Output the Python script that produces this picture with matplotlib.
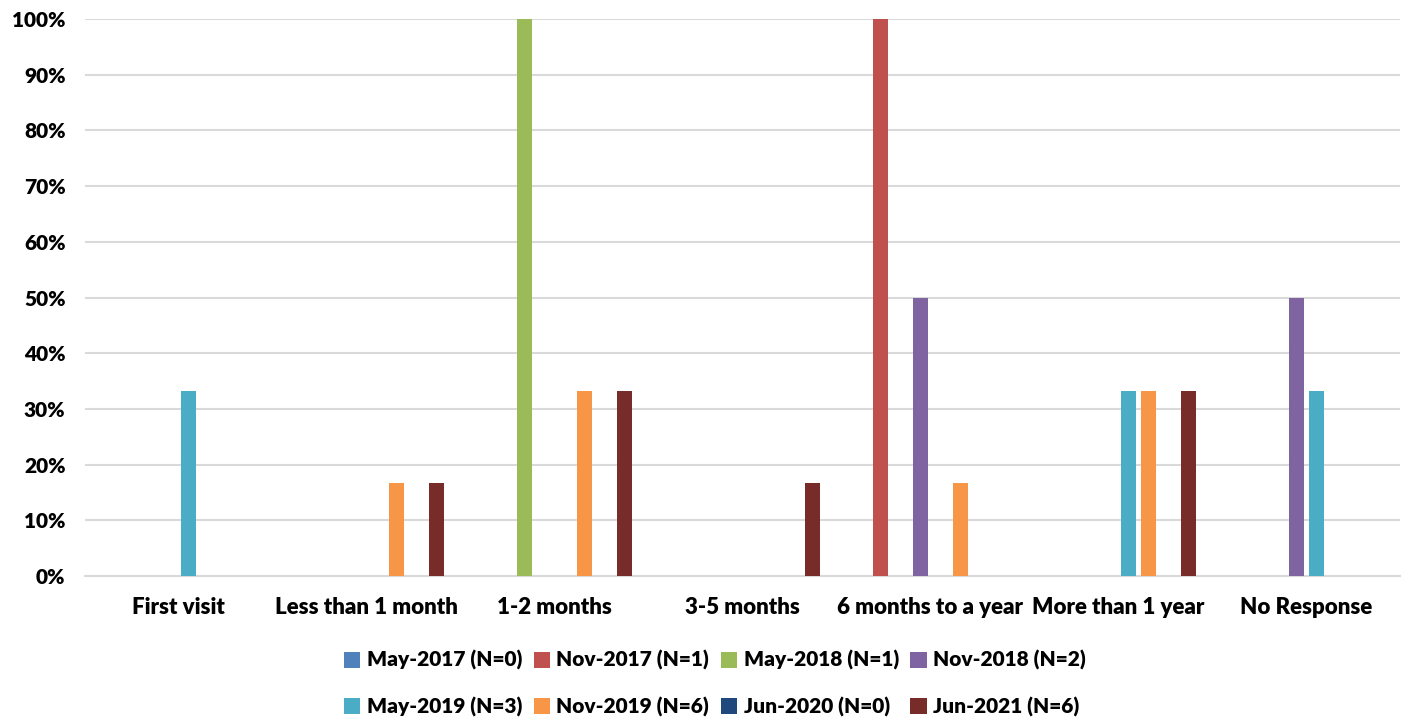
import numpy as np
import matplotlib
matplotlib.use('Agg')
import matplotlib.pyplot as plt
from matplotlib.ticker import PercentFormatter

plt.rcParams['font.family'] = ['Lato', 'DejaVu Sans']
plt.rcParams['font.weight'] = 'heavy'

# categories and series
categories = ['First visit', 'Less than 1 month', '1-2 months', '3-5 months',
              '6 months to a year', 'More than 1 year', 'No Response']
series = ['May-2017 (N=0)', 'Nov-2017 (N=1)', 'May-2018 (N=1)', 'Nov-2018 (N=2)',
          'May-2019 (N=3)', 'Nov-2019 (N=6)', 'Jun-2020 (N=0)', 'Jun-2021 (N=6)']
colors = ['#4F81BD', '#C0504D', '#9BBB59', '#8064A2',
          '#4BACC6', '#F79646', '#1F497D', '#772C2A']

may_2017 = [0, 0, 0, 0, 0, 0, 0]
nov_2017 = [0, 0, 0, 0, 100, 0, 0]
may_2018 = [0, 0, 100, 0, 0, 0, 0]
nov_2018 = [0, 0, 0, 0, 50, 0, 50]
may_2019 = [33.3, 0, 0, 0, 0, 33.3, 33.3]
nov_2019 = [0, 16.7, 33.3, 0, 16.7, 33.3, 0]
jun_2020 = [0, 0, 0, 0, 0, 0, 0]
jun_2021 = [0, 16.7, 33.3, 16.7, 0, 33.3, 0]

values = [may_2017, nov_2017, may_2018, nov_2018, may_2019, nov_2019, jun_2020, jun_2021]

fig = plt.figure(figsize=(14.05, 7.19), dpi=100)
ax = fig.add_axes([85/1405, 1-576/719, 1315/1405, 557/719])

x = np.arange(len(categories))
step = 0.1065
width = 0.08
for i, (name, vals) in enumerate(zip(series, values)):
    ax.bar(x + (i - 3.5)*step, vals, width, color=colors[i], label=name, zorder=3)

ax.set_xlim(-0.5, len(categories) - 0.5)
ax.set_ylim(0, 100)
ax.set_yticks(np.arange(0, 101, 10))
ax.yaxis.set_major_formatter(PercentFormatter(decimals=0))
ax.set_xticks(x)
ax.set_xticklabels(categories)
ax.grid(axis='y', color='#D9D9D9', linewidth=1.5, zorder=0)
for s in ['top', 'right', 'left']:
    ax.spines[s].set_visible(False)
ax.spines['bottom'].set_color('#D9D9D9')
ax.spines['bottom'].set_linewidth(1.5)
ax.tick_params(axis='y', length=0, labelsize=15, pad=14)
ax.tick_params(axis='x', length=0, labelsize=16, pad=15)

# legend filled row by row like Excel
handles, labels = ax.get_legend_handles_labels()
order = [0, 4, 1, 5, 2, 6, 3, 7]
ax.legend([handles[k] for k in order], [labels[k] for k in order],
          loc='upper center', bbox_to_anchor=(0.479, -0.1), ncol=4, frameon=False,
          fontsize=15, handlelength=0.8, handleheight=0.8, handletextpad=0.3,
          columnspacing=0.55, labelspacing=1.25)

fig.savefig('out.png', dpi=100)
